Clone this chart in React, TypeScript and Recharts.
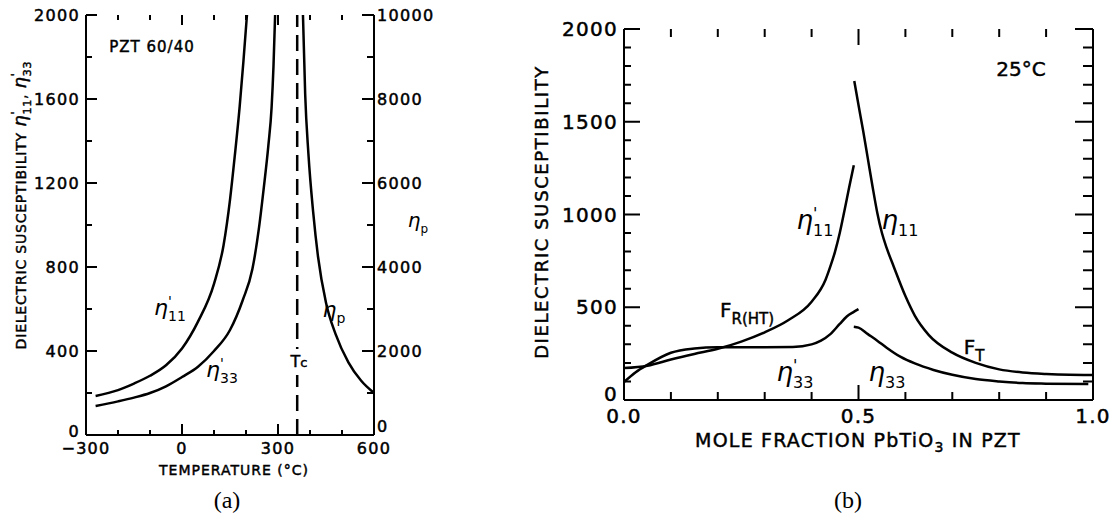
import React from "react";
import { LineChart, Line, XAxis, YAxis, ReferenceLine } from "recharts";

// ---- panel (a): PZT 60/40 against temperature ----
const tempTicks = [-300, -200, -100, 0, 100, 200, 300, 400, 500, 600];
const tempLabels = [-300, 0, 300, 600];
const suscTicksA = [0, 200, 400, 600, 800, 1000, 1200, 1400, 1600, 1800, 2000];
const suscLabelsA = [0, 400, 800, 1200, 1600, 2000];
const etaPTicks = [0, 1000, 2000, 3000, 4000, 5000, 6000, 7000, 8000, 9000, 10000];
const etaPLabels = [0, 2000, 4000, 6000, 8000, 10000];

const t11 = [-270, -200, -150, -100, -50, 0, 50, 100, 130, 150, 165, 180, 192, 203];
const eta11A = [186, 214, 245, 282, 332, 412, 540, 720, 905, 1120, 1330, 1560, 1780, 2000];
const t33 = [-270, -200, -150, -100, -50, 0, 50, 100, 150, 190, 220, 240, 255, 270, 280, 286, 291];
const eta33A = [138, 160, 178, 200, 232, 276, 325, 400, 500, 643, 790, 980, 1170, 1380, 1560, 1760, 2000];
const tP = [378, 385, 395, 410, 425, 450, 480, 520, 560, 600];
const etaP = [10000, 8100, 6700, 5300, 4250, 3150, 2400, 1730, 1290, 1000];
const curieT = 360;

// ---- panel (b): 25 C against mole fraction PbTiO3 ----
const fracTicks = [0, 0.1, 0.2, 0.3, 0.4, 0.5, 0.6, 0.7, 0.8, 0.9, 1.0];
const fracLabels = [0, 0.5, 1.0];
const suscTicksB = [0, 100, 200, 300, 400, 500, 600, 700, 800, 900, 1000, 1100, 1200, 1300, 1400, 1500, 1600, 1700, 1800, 1900, 2000];
const suscLabelsB = [0, 500, 1000, 1500, 2000];

const xRh11 = [0, 0.05, 0.1, 0.15, 0.2, 0.25, 0.3, 0.35, 0.4, 0.43, 0.44, 0.45, 0.46, 0.47, 0.48, 0.49];
const eta11Rh = [172, 185, 218, 248, 276, 315, 365, 430, 530, 650, 720, 800, 900, 1020, 1145, 1265];
const xRh33 = [0, 0.025, 0.05, 0.1, 0.15, 0.2, 0.3, 0.36, 0.4, 0.42, 0.44, 0.46, 0.475, 0.49, 0.5];
const eta33Rh = [97, 150, 190, 255, 278, 285, 285, 286, 300, 320, 355, 410, 450, 475, 490];
const xTe11 = [0.491, 0.5, 0.51, 0.52, 0.53, 0.54, 0.55, 0.56, 0.575, 0.6, 0.62, 0.65, 0.7, 0.75, 0.8, 0.85, 0.9, 0.95, 1.0];
const eta11Te = [1720, 1590, 1450, 1300, 1150, 1010, 900, 820, 720, 560, 455, 350, 255, 200, 165, 148, 140, 136, 135];
const xTe33 = [0.49, 0.5, 0.52, 0.54, 0.56, 0.59, 0.62, 0.66, 0.7, 0.75, 0.8, 0.85, 0.9, 0.99];
const eta33Te = [395, 390, 355, 320, 282, 232, 197, 162, 136, 113, 100, 91, 88, 86];

const INK = "#000";
const FONT = "DejaVu Sans";
const axisStyle = { stroke: INK, strokeWidth: 2 };

const pts = (xs: number[], ys: number[]) => xs.map((x, i) => ({ x, v: ys[i] }));
const has = (list: number[], v: number) => list.some((l) => Math.abs(l - v) < 1e-6);

const labelText = (x: number, y: number, anchor: string, size: number, s: string) => (
  <text x={x} y={y} dy="0.35em" textAnchor={anchor} fontFamily={FONT} fontSize={size} fill={INK}
    stroke={INK} strokeWidth={0.5} letterSpacing={1.3}>
    {s}
  </text>
);

// labels only at the numbered ticks
const xLabel = (labelY: number, labels: number[], fmt: (v: number) => string, size: number) => (p: any) => {
  const v = p.payload.value;
  return <g>{has(labels, v) ? labelText(p.x, labelY, "middle", size, fmt(v)) : null}</g>;
};
const yLabel = (labelX: number, labels: number[], anchor: string, size: number, zeroShift: number) => (p: any) => {
  const v = p.payload.value;
  return <g>{has(labels, v) ? labelText(labelX, p.y + (v === 0 ? zeroShift : 0), anchor, size, String(v)) : null}</g>;
};

// inward tick marks along one side of the frame, as one broken polyline in data space
const tickPath = (vals: number[], labels: number[], dir: "x" | "y", base: number, minor: number, major: number) =>
  vals.flatMap((v) => {
    const len = has(labels, v) ? major : minor;
    return dir === "x"
      ? [{ x: v, v: base }, { x: v, v: base + len }, { x: v, v: null }]
      : [{ x: base, v }, { x: base + len, v }, { x: base + len, v: null }];
  });

const tickSide = (key: string, xId: string, yId: string, data: any[]) => (
  <Line key={key} xAxisId={xId} yAxisId={yId} data={data} dataKey="v" type="linear" dot={false} activeDot={false}
    stroke={INK} strokeWidth={2} connectNulls={false} isAnimationActive={false} />
);

const At = ({ x, y, children, style }: any) => (
  <div
    style={{
      position: "absolute",
      left: x,
      top: y,
      transform: "translate(-50%, -50%)",
      whiteSpace: "nowrap",
      lineHeight: 1,
      ...style,
    }}
  >
    {children}
  </div>
);

const Eta = ({ sub, prime, size }: { sub: string; prime?: boolean; size: number }) => {
  const s = Math.round(size * 0.62);
  return (
    <span style={{ whiteSpace: "nowrap" }}>
      <span style={{ fontSize: size, fontStyle: "italic" }}>η</span>
      <span style={{ position: "relative", display: "inline-block", fontSize: s, top: size * 0.28 }}>
        {prime && <span style={{ position: "absolute", left: 0, top: -s * 1.05 }}>'</span>}
        {sub}
      </span>
    </span>
  );
};

const lineProps = { type: "monotone" as const, dataKey: "v", dot: false, stroke: INK, strokeWidth: 2.5, isAnimationActive: false };

// px -> data units for tick lengths
const pxA = { x: 900 / 288, y: 2000 / 420 };
const pxB = { x: 1 / 469, y: 2000 / 371 };

const marginA = { top: 15, right: 46, bottom: 55, left: 26 };
const marginB = { top: 29, right: 7, bottom: 90, left: 64 };

const PanelA = () => (
  <LineChart width={480} height={520} margin={marginA}>
    <XAxis xAxisId="b" dataKey="x" type="number" domain={[-300, 600]} allowDataOverflow ticks={tempTicks} interval={0} height={30}
      tickLine={false} axisLine={axisStyle}
      tick={xLabel(448, tempLabels, (v) => (v < 0 ? "−" + Math.abs(v) : String(v)), 16)} />
    <XAxis xAxisId="t" orientation="top" dataKey="x" type="number" domain={[-300, 600]} allowDataOverflow ticks={tempTicks} interval={0} height={0}
      tickLine={false} axisLine={axisStyle} tick={false} />
    <YAxis yAxisId="l" type="number" domain={[0, 2000]} allowDataOverflow ticks={suscTicksA} interval={0} width={60}
      tickLine={false} axisLine={axisStyle} tick={yLabel(80, suscLabelsA, "end", 16, -4)} />
    <YAxis yAxisId="r" orientation="right" type="number" domain={[0, 10000]} allowDataOverflow ticks={etaPTicks} interval={0} width={60}
      tickLine={false} axisLine={axisStyle} tick={yLabel(377, etaPLabels, "start", 16, -9)} />

    <ReferenceLine xAxisId="b" yAxisId="l" x={curieT} stroke={INK} strokeWidth={2.5} strokeDasharray="16 8" />
    <Line {...lineProps} xAxisId="b" yAxisId="l" data={pts(t11, eta11A)} />
    <Line {...lineProps} xAxisId="b" yAxisId="l" data={pts(t33, eta33A)} />
    <Line {...lineProps} xAxisId="b" yAxisId="r" data={pts(tP, etaP)} />
  </LineChart>
);

// transparent twin of panel (a) holding only the frame ticks, drawn above everything
const TicksA = () => (
  <LineChart width={480} height={520} margin={marginA}>
    <XAxis xAxisId="b" dataKey="x" type="number" domain={[-300, 600]} height={30} tick={false} tickLine={false} axisLine={false} />
    <XAxis xAxisId="t" orientation="top" dataKey="x" type="number" domain={[-300, 600]} height={0} tick={false} tickLine={false} axisLine={false} />
    <YAxis yAxisId="l" type="number" domain={[0, 2000]} width={60} tick={false} tickLine={false} axisLine={false} />
    <YAxis yAxisId="r" orientation="right" type="number" domain={[0, 10000]} width={60} tick={false} tickLine={false} axisLine={false} />
    {tickSide("ab", "b", "l", tickPath(tempTicks, tempLabels, "x", 0, 5 * pxA.y, 11 * pxA.y))}
    {tickSide("at", "b", "l", tickPath(tempTicks, tempLabels, "x", 2000, -5 * pxA.y, -10 * pxA.y))}
    {tickSide("al", "b", "l", tickPath(suscTicksA, suscLabelsA, "y", -300, 6 * pxA.x, 11 * pxA.x))}
    {tickSide("ar", "b", "r", tickPath(etaPTicks, etaPLabels, "y", 600, -7 * pxA.x, -12 * pxA.x))}
  </LineChart>
);

const PanelB = () => (
  <LineChart width={610} height={520} margin={marginB}>
    <XAxis xAxisId="b" dataKey="x" type="number" domain={[0, 1]} allowDataOverflow ticks={fracTicks} interval={0} height={30}
      tickLine={false} axisLine={axisStyle}
      tick={xLabel(416, fracLabels, (v) => v.toFixed(1), 20)} />
    <XAxis xAxisId="t" orientation="top" dataKey="x" type="number" domain={[0, 1]} allowDataOverflow ticks={fracTicks} interval={0} height={0}
      tickLine={false} axisLine={axisStyle} tick={false} />
    <YAxis yAxisId="l" type="number" domain={[0, 2000]} allowDataOverflow ticks={suscTicksB} interval={0} width={60}
      tickLine={false} axisLine={axisStyle} tick={yLabel(118, suscLabelsB, "end", 20, -6)} />
    <YAxis yAxisId="r" orientation="right" type="number" domain={[0, 2000]} allowDataOverflow ticks={suscTicksB} interval={0} width={10}
      tickLine={false} axisLine={axisStyle} tick={false} />

    <Line {...lineProps} xAxisId="b" yAxisId="l" data={pts(xRh11, eta11Rh)} />
    <Line {...lineProps} xAxisId="b" yAxisId="l" data={pts(xRh33, eta33Rh)} />
    <Line {...lineProps} xAxisId="b" yAxisId="l" data={pts(xTe11, eta11Te)} />
    <Line {...lineProps} xAxisId="b" yAxisId="l" data={pts(xTe33, eta33Te)} />
  </LineChart>
);

const TicksB = () => (
  <LineChart width={610} height={520} margin={marginB}>
    <XAxis xAxisId="b" dataKey="x" type="number" domain={[0, 1]} height={30} tick={false} tickLine={false} axisLine={false} />
    <XAxis xAxisId="t" orientation="top" dataKey="x" type="number" domain={[0, 1]} height={0} tick={false} tickLine={false} axisLine={false} />
    <YAxis yAxisId="l" type="number" domain={[0, 2000]} width={60} tick={false} tickLine={false} axisLine={false} />
    <YAxis yAxisId="r" orientation="right" type="number" domain={[0, 2000]} width={10} tick={false} tickLine={false} axisLine={false} />
    {tickSide("bb", "b", "l", tickPath(fracTicks, fracLabels, "x", 0, 8 * pxB.y, 15 * pxB.y))}
    {tickSide("bt", "b", "l", tickPath(fracTicks, fracLabels, "x", 2000, -8 * pxB.y, -16 * pxB.y))}
    {tickSide("bl", "b", "l", tickPath(suscTicksB, suscLabelsB, "y", 0, 7 * pxB.x, 16 * pxB.x))}
    {tickSide("br", "b", "l", tickPath(suscTicksB, suscLabelsB, "y", 1, -10 * pxB.x, -18 * pxB.x))}
  </LineChart>
);

const letters = { WebkitTextStroke: "0.45px " + INK } as any;
const layer = (left: number) => ({ position: "absolute" as const, left, top: 0 });
const overlay = (left: number) => ({ position: "absolute" as const, left, top: 0, zIndex: 2, pointerEvents: "none" as const });

export default function App() {
  return (
    <div style={{ position: "absolute", left: 0, top: 0, width: 1110, height: 520, background: "#fff", fontFamily: FONT, color: INK }}>
      <div style={layer(0)}>
        <PanelA />
      </div>
      <div style={layer(500)}>
        <PanelB />
      </div>
      <div style={overlay(0)}>
        <TicksA />
      </div>
      <div style={overlay(500)}>
        <TicksB />
      </div>

      {/* panel (a) text */}
      <At x={152} y={47} style={{ fontSize: 15, letterSpacing: 1, ...letters }}>PZT 60/40</At>
      <At x={170} y={308}><Eta sub="11" prime size={22} /></At>
      <At x={222} y={370}><Eta sub="33" prime size={22} /></At>
      <At x={334} y={310}><Eta sub="p" size={22} /></At>
      <At x={299} y={362} style={{ background: "#fff", padding: "5px 1px", fontSize: 16, zIndex: 3, ...letters }}>
        T<span style={{ fontSize: 13 }}>c</span>
      </At>
      <At x={418} y={220}><Eta sub="p" size={20} /></At>
      <At x={234} y={470} style={{ fontSize: 14, letterSpacing: 1, ...letters }}>TEMPERATURE (°C)</At>
      <At x={20} y={205} style={{ fontSize: 14, letterSpacing: 0.8, transform: "translate(-50%, -50%) rotate(-90deg)", ...letters }}>
        DIELECTRIC SUSCEPTIBILITY <Eta sub="11" prime size={18} />, <Eta sub="33" prime size={18} />
      </At>
      <At x={227} y={500} style={{ fontFamily: "Liberation Serif", fontSize: 24 }}>(a)</At>

      {/* panel (b) text */}
      <At x={1021} y={69} style={{ fontSize: 20, ...letters }}>25°C</At>
      <At x={815} y={220}><Eta sub="11" prime size={26} /></At>
      <At x={900} y={220}><Eta sub="11" size={26} /></At>
      <At x={747} y={310} style={{ fontSize: 20, ...letters }}>
        F<span style={{ fontSize: 15, position: "relative", top: 7 }}>R(HT)</span>
      </At>
      <At x={795} y={372}><Eta sub="33" prime size={26} /></At>
      <At x={887} y={372}><Eta sub="33" size={26} /></At>
      <At x={974} y={347} style={{ fontSize: 20, ...letters }}>
        F<span style={{ fontSize: 15, position: "relative", top: 7 }}>T</span>
      </At>
      <At x={542} y={212} style={{ fontSize: 18, letterSpacing: 1.6, transform: "translate(-50%, -50%) rotate(-90deg)", ...letters }}>
        DIELECTRIC SUSCEPTIBILITY
      </At>
      <At x={858} y={440} style={{ fontSize: 19, letterSpacing: 1.2, ...letters }}>
        MOLE FRACTION PbTiO<span style={{ fontSize: 14, position: "relative", top: 5 }}>3</span> IN PZT
      </At>
      <At x={848} y={500} style={{ fontFamily: "Liberation Serif", fontSize: 24 }}>(b)</At>
    </div>
  );
}
